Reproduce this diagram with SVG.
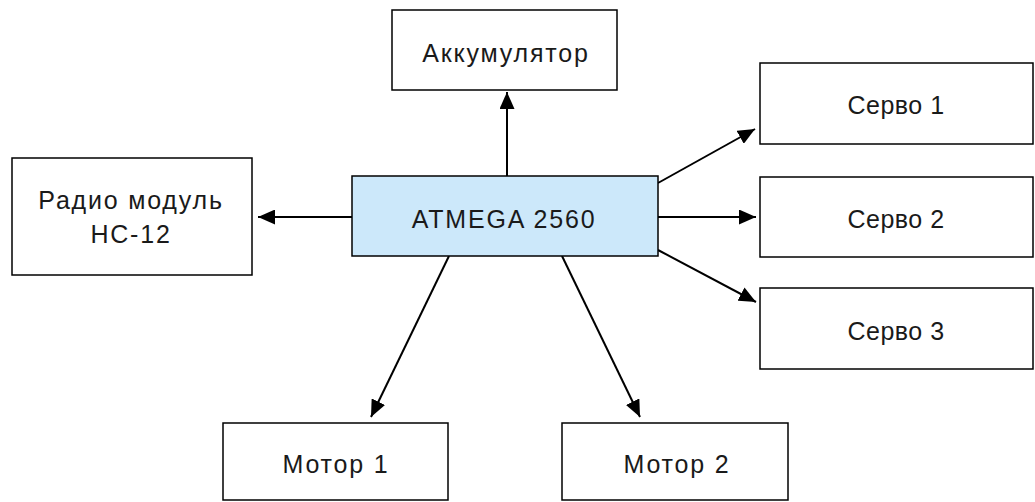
<svg xmlns="http://www.w3.org/2000/svg" width="1035" height="502" viewBox="0 0 1035 502">
<style>
.box{fill:#ffffff;stroke:#000000;stroke-width:1.5}
.mcu{fill:#cce8fa;stroke:#000000;stroke-width:1.5}
.lbl{font-family:"Liberation Sans",Arial,sans-serif;font-size:25px;letter-spacing:1.8px;fill:#1a1a1a;text-anchor:middle}
.srv{letter-spacing:0.5px}
.conn{stroke:#000000;stroke-width:2;fill:none;marker-end:url(#ah)}
</style>
<defs>
<marker id="ah" viewBox="0 0 17 15" refX="17" refY="7.5" markerWidth="17" markerHeight="15" markerUnits="userSpaceOnUse" orient="auto">
<path d="M0,0 L17,7.5 L0,15 z" fill="#000000"/>
</marker>
</defs>
<rect width="1035" height="502" fill="#ffffff"/>
<g id="connectors">
<line class="conn" x1="507" y1="176" x2="507" y2="92"/>
<line class="conn" x1="352" y1="217" x2="258" y2="217"/>
<line class="conn" x1="658" y1="183" x2="755" y2="129"/>
<line class="conn" x1="658" y1="217" x2="756" y2="217"/>
<line class="conn" x1="658" y1="250" x2="756" y2="302"/>
<line class="conn" x1="449" y1="256" x2="371" y2="417"/>
<line class="conn" x1="562" y1="256" x2="640" y2="417"/>
</g>
<g id="atmega">
<rect class="mcu" x="352" y="176" width="306" height="80"/>
<text class="lbl" x="504" y="228">ATMEGA 2560</text>
</g>
<g id="akkumulator">
<rect class="box" x="392" y="10" width="225" height="80"/>
<text class="lbl" x="506" y="62">Аккумулятор</text>
</g>
<g id="radio">
<rect class="box" x="12" y="158" width="240" height="117"/>
<text class="lbl" x="131" y="209">Радио модуль</text>
<text class="lbl" x="131" y="243">HC-12</text>
</g>
<g id="servo1">
<rect class="box" x="760" y="63" width="273" height="81"/>
<text class="lbl srv" x="896" y="114">Серво 1</text>
</g>
<g id="servo2">
<rect class="box" x="760" y="177" width="273" height="80"/>
<text class="lbl srv" x="896" y="228">Серво 2</text>
</g>
<g id="servo3">
<rect class="box" x="760" y="288" width="273" height="81"/>
<text class="lbl srv" x="896" y="340">Серво 3</text>
</g>
<g id="motor1">
<rect class="box" x="223" y="423" width="225" height="77"/>
<text class="lbl" x="336" y="473">Мотор 1</text>
</g>
<g id="motor2">
<rect class="box" x="562" y="423" width="226" height="77"/>
<text class="lbl" x="677" y="473">Мотор 2</text>
</g>
</svg>
